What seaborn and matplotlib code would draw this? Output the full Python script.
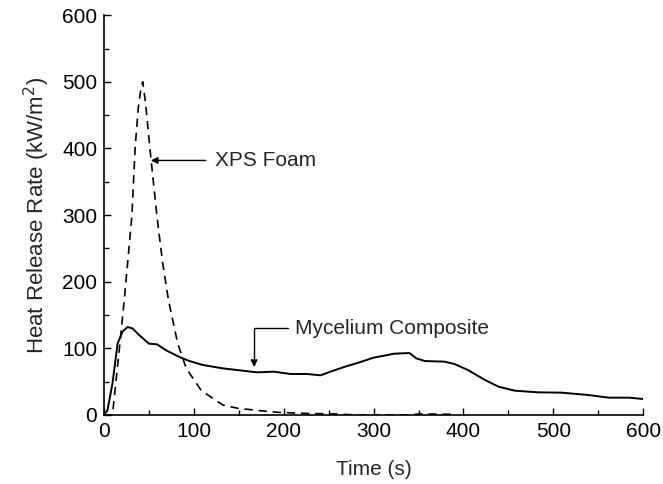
import numpy as np
import pandas as pd
import matplotlib
matplotlib.use("Agg")
import matplotlib.pyplot as plt
import seaborn as sns
from matplotlib.ticker import MultipleLocator

# Data
myc_t = [0, 3.7, 9.3, 15, 20.5, 26, 31.6, 39, 50, 59, 69, 84, 95, 110, 132, 151, 170, 189,
         207.6, 226, 241, 252, 267, 282, 300, 315.5, 323, 340, 347.5, 357, 379, 390, 405,
         424, 439, 457, 483, 509, 539, 561.6, 584, 600]
myc_hrr = [0, 7, 47, 107, 125, 132, 130, 120, 107, 106, 97, 87, 81, 75, 70, 67, 64, 65,
           61.5, 61.5, 59.5, 65, 72, 78, 86, 90, 92, 93, 85, 81, 80, 76.5, 67.5,
           52.5, 42.5, 36.5, 34, 33.5, 30, 26, 26, 24]

xps_t = [0, 9.3, 16.8, 22.4, 27, 31, 34.5, 38, 41, 43, 46, 51, 58.7, 65, 71.7, 82, 91.5,
         108, 132, 149, 177, 194, 220, 260, 280, 340, 350, 390]
xps_hrr = [0, 0, 97, 172, 240, 300, 400, 460, 490, 500, 470, 400, 300, 230, 172, 107, 70,
           37, 15, 10, 6, 4, 2.5, 1.5, 0, 0, 1.5, 1]

myc = pd.DataFrame({"Time (s)": myc_t, "HRR": myc_hrr})
xps = pd.DataFrame({"Time (s)": xps_t, "HRR": xps_hrr})

sns.set_style("ticks")
plt.rcParams['font.family'] = ['Liberation Sans', 'DejaVu Sans']
plt.rcParams['font.size'] = 15

fig = plt.figure(figsize=(6.63, 4.84), dpi=100)
ax = fig.add_axes([0.157, 0.1426, 0.813, 0.826])

sns.lineplot(data=xps, x="Time (s)", y="HRR", ax=ax, color="black", lw=1.2,
             linestyle=(0, (5, 3.5)))
sns.lineplot(data=myc, x="Time (s)", y="HRR", ax=ax, color="black", lw=1.4)

ax.set_xlim(0, 600)
ax.set_ylim(0, 600)
ax.xaxis.set_major_locator(MultipleLocator(100))
ax.xaxis.set_minor_locator(MultipleLocator(50))
ax.yaxis.set_major_locator(MultipleLocator(100))
ax.yaxis.set_minor_locator(MultipleLocator(50))
ax.tick_params(which="both", direction="in", colors="black", labelsize=15, width=1, pad=5)
ax.tick_params(which="major", length=5)
ax.tick_params(which="minor", length=3.5)
sns.despine(ax=ax)
for s in ["left", "bottom"]:
    ax.spines[s].set_linewidth(1.2)
    ax.spines[s].set_color("black")

ax.set_xlabel("Time (s)", fontsize=15, labelpad=14)
ax.set_ylabel("Heat Release Rate (kW/m$^2$)", fontsize=16, labelpad=7)

ax.annotate("XPS Foam", xy=(52, 382), xytext=(123, 382), fontsize=15,
            va="center", ha="left",
            arrowprops=dict(arrowstyle="-|>", color="black", lw=1, shrinkA=4, shrinkB=0,
                            mutation_scale=10))
ax.annotate("Mycelium Composite", xy=(167, 72), xytext=(213, 130), fontsize=15,
            va="center", ha="left",
            arrowprops=dict(arrowstyle="-|>", color="black", lw=1, shrinkA=3, shrinkB=0,
                            mutation_scale=10, connectionstyle="angle,angleA=0,angleB=90,rad=0"))

fig.savefig("out.png", dpi=100)
